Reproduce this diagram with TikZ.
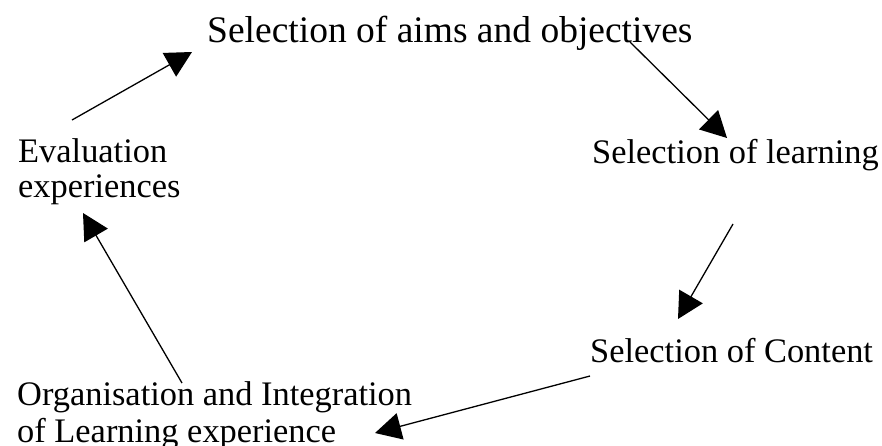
\documentclass[tikz,border=0pt]{standalone}
\usepackage{fontspec}
\setmainfont{Liberation Serif}
\usetikzlibrary{arrows.meta}

\begin{document}
\begin{tikzpicture}[x=1pt, y=1pt,
  every node/.style = {inner sep=0pt, anchor=base west, align=left,
    font=\fontsize{34.4}{36}\selectfont},
  title/.style = {font=\fontsize{37.5}{40}\selectfont},
  cycle/.style = {line width=1.3pt,
    -{Triangle[length=26pt, width=27pt]}}]
  \useasboundingbox (0,0) rectangle (882,-445);
  \node[title] (aims) at (207,-42) {Selection of aims and objectives};
  \node (learning) at (592,-163) {Selection of learning};
  \node (content) at (590,-362) {Selection of Content};
  \node[font=\fontsize{34.4}{37}\selectfont] (org) at (17,-442)
    {Organisation and Integration\\of Learning experience};
  \node[font=\fontsize{34.4}{35}\selectfont] (eval) at (18,-197)
    {Evaluation\\experiences};
  % the cycle
  \draw[cycle] ([shift={(423,0)}]aims.base west) -- ([shift={(135,25)}]learning.base west);
  \draw[cycle] ([shift={(141,-61)}]learning.base west) -- ([shift={(88,43)}]content.base west);
  \draw[cycle] ([shift={(0,-14)}]content.base west) -- ([shift={(358,9)}]org.base west);
  \draw[cycle] ([shift={(165,59)}]org.base west) -- ([shift={(65,-16)}]eval.base west);
  \draw[cycle] ([shift={(54,77)}]eval.base west) -- ([shift={(-15,-10)}]aims.base west);
\end{tikzpicture}
\end{document}
